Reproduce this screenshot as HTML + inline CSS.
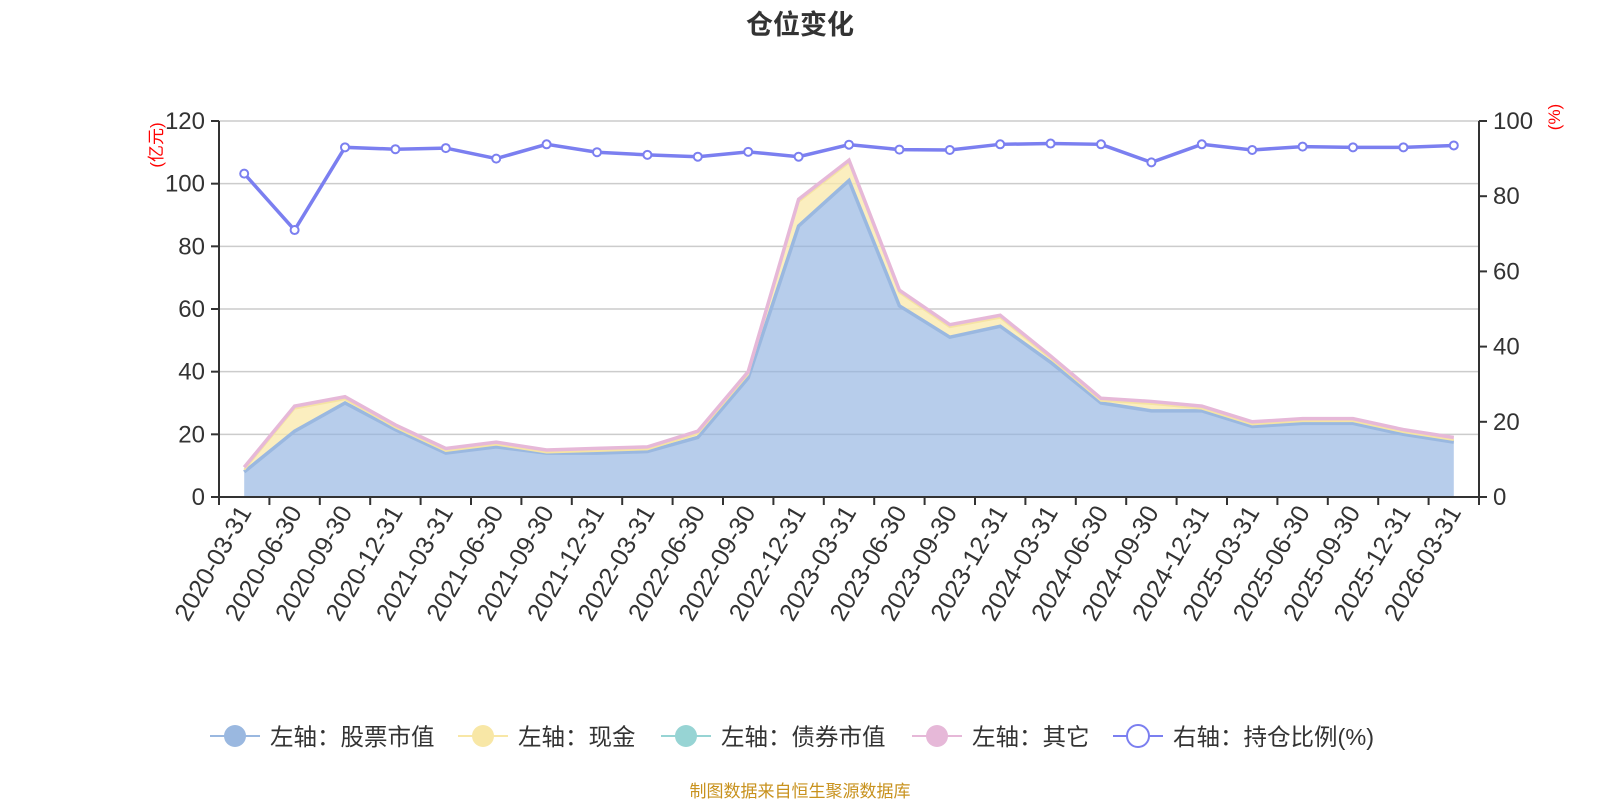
<!DOCTYPE html>
<html><head><meta charset="utf-8">
<style>
body{margin:0;background:#fff;width:1600px;height:800px;overflow:hidden;font-family:"Liberation Sans","Noto Sans CJK SC",sans-serif;}
svg text{font-family:"Liberation Sans","Noto Sans CJK SC",sans-serif;}
</style></head><body>
<svg id="c" width="1600" height="800" xmlns="http://www.w3.org/2000/svg"></svg>
<script>
const L=219,R=1479,T=121,B=497;
const cats=[];for(let y=2020;y<=2026;y++){for(const m of ["03-31","06-30","09-30","12-31"]){if(y==2026&&m!="03-31")break;cats.push(y+"-"+m);}}
const stock=[8,21,30,21.5,14,16,14,14,14.5,19,38,86.5,101,61,51,54.5,43,30,27.5,27.5,22.5,23.5,23.5,20,17.5];
const total=[9.5,29,32,23,15.5,17.5,15,15.5,16,21,40,95,107.5,66,55,58,45,31.5,30.5,29,24,25,25,21.5,19];
const cash=total.map((t,i)=>Math.max(stock[i],t-0.8));
const ratio=[86,71,93,92.5,92.8,90,93.8,91.7,91,90.5,91.8,90.5,93.7,92.4,92.3,93.8,94,93.8,89,93.8,92.3,93.2,93,93,93.5];
const bw=(R-L)/cats.length;
const X=i=>L+bw*(i+0.5), Y=v=>B-(B-T)*v/120, Y2=v=>B-(B-T)*v/100;
let s='';
s+=`<text x="800" y="34" text-anchor="middle" font-size="27" font-weight="bold" fill="#333">仓位变化</text>`;
for(let k=0;k<=6;k++){const y=Y(k*20);if(k>0)s+=`<line x1="${L}" x2="${R}" y1="${y}" y2="${y}" stroke="#ccc" stroke-width="1.5"/>`;
s+=`<line x1="${L-8}" x2="${L}" y1="${y}" y2="${y}" stroke="#333" stroke-width="2"/><text x="${L-14}" y="${y+8}" text-anchor="end" font-size="24" fill="#333">${k*20}</text>`;}
for(let k=0;k<=5;k++){const y=Y2(k*20);s+=`<line x1="${R}" x2="${R+8}" y1="${y}" y2="${y}" stroke="#333" stroke-width="2"/><text x="${R+14}" y="${y+8}" font-size="24" fill="#333">${k*20}</text>`;}
s+=`<text transform="translate(162,145) rotate(-90)" text-anchor="middle" font-size="17" fill="red">(亿元)</text>`;
s+=`<text transform="translate(1560,117) rotate(-90)" text-anchor="middle" font-size="17" fill="red">(%)</text>`;
const pts=a=>a.map((v,i)=>X(i)+","+Y(v)).join(" ");
const area=(top,bot,fill)=>{let p=top.map((v,i)=>X(i)+","+Y(v));for(let i=bot.length-1;i>=0;i--)p.push(X(i)+","+Y(bot[i]));return `<polygon points="${p.join(" ")}" fill="${fill}"/>`;};
const zero=stock.map(()=>0);
s+=area(stock,zero,"rgba(145,178,224,0.65)");
s+=area(cash,stock,"rgba(250,232,170,0.75)");
s+=area(total,cash,"rgba(232,185,216,0.6)");
s+=`<polyline points="${pts(stock)}" fill="none" stroke="#9ab8e0" stroke-width="3.5"/>`;
s+=`<polyline points="${pts(cash)}" fill="none" stroke="#f5e3a3" stroke-width="2"/>`;
s+=`<polyline points="${pts(total)}" fill="none" stroke="#e6b8d8" stroke-width="3.5"/>`;
s+=`<line x1="${L}" x2="${L}" y1="${T}" y2="${B}" stroke="#333" stroke-width="2"/>`;
s+=`<line x1="${R}" x2="${R}" y1="${T}" y2="${B+8}" stroke="#333" stroke-width="2"/>`;
s+=`<line x1="${L}" x2="${R}" y1="${B}" y2="${B}" stroke="#333" stroke-width="2"/>`;
for(let i=0;i<=cats.length;i++){const x=L+bw*i;s+=`<line x1="${x}" x2="${x}" y1="${B}" y2="${B+8}" stroke="#333" stroke-width="2"/>`;}
cats.forEach((c,i)=>{s+=`<text transform="translate(${X(i)+8},${B+15}) rotate(-60)" text-anchor="end" font-size="25" fill="#333">${c}</text>`;});
s+=`<polyline points="${ratio.map((v,i)=>X(i)+","+Y2(v)).join(" ")}" fill="none" stroke="#7b7ff0" stroke-width="3.5"/>`;
ratio.forEach((v,i)=>{s+=`<circle cx="${X(i)}" cy="${Y2(v)}" r="4" fill="#fff" stroke="#7b7ff0" stroke-width="2"/>`;});
const leg=[[235,"#9ab8e0","左轴：股票市值",1],[483,"#f8e7a6","左轴：现金",1],[686,"#97d4d4","左轴：债券市值",1],[937,"#e6b8d8","左轴：其它",1],[1138,"#7b7ff0","右轴：持仓比例(%)",0]];
leg.forEach(([x,c,t,f])=>{s+=`<line x1="${x-25}" x2="${x+25}" y1="736" y2="736" stroke="${c}" stroke-width="2"/>`;
s+=f?`<circle cx="${x}" cy="736" r="11" fill="${c}"/>`:`<circle cx="${x}" cy="736" r="11" fill="#fff" stroke="${c}" stroke-width="2"/>`;
s+=`<text x="${x+35}" y="745" font-size="23.5" fill="#333">${t}</text>`;});
s+=`<text x="800" y="797" text-anchor="middle" font-size="17" fill="#c8921e">制图数据来自恒生聚源数据库</text>`;
document.getElementById("c").innerHTML=s;
</script>
</body></html>
